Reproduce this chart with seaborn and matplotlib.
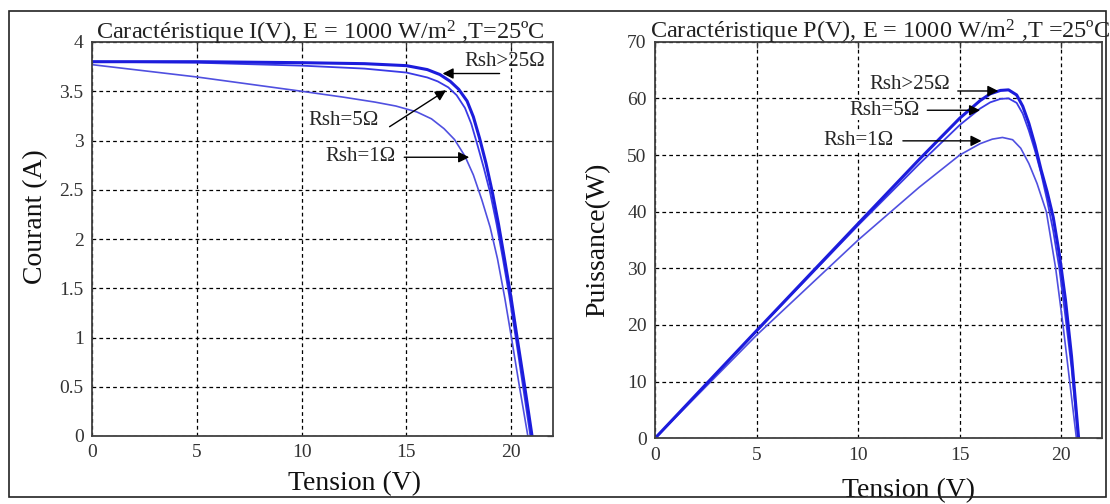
import numpy as np
import pandas as pd
import matplotlib
matplotlib.use("Agg")
import matplotlib.pyplot as plt
from matplotlib.patches import Rectangle
import seaborn as sns

# ---------------- data ----------------
series_names = ["Rsh>25Ω", "Rsh=5Ω", "Rsh=1Ω"]

# I(V) characteristic
v_iv_25 = [0, 5, 10, 13, 15, 16, 16.6, 17.1, 17.5, 17.9, 18.2, 18.5, 18.8, 19.1, 19.4, 19.7, 20.0, 20.3, 20.65, 21.0]
i_iv_25 = [3.80, 3.80, 3.79, 3.78, 3.76, 3.72, 3.67, 3.60, 3.52, 3.40, 3.24, 3.02, 2.77, 2.48, 2.15, 1.78, 1.40, 0.98, 0.50, 0.0]

v_iv_5 = [0, 5, 10, 13, 15, 16, 16.5, 17.0, 17.4, 17.8, 18.1, 18.4, 18.7, 19.0, 19.3, 19.6, 19.9, 20.2, 20.55, 20.92]
i_iv_5 = [3.80, 3.79, 3.76, 3.73, 3.69, 3.64, 3.60, 3.54, 3.46, 3.33, 3.17, 2.95, 2.72, 2.47, 2.16, 1.81, 1.44, 1.03, 0.53, 0.0]

v_iv_1 = [0, 5, 10, 12, 13.5, 14.5, 15.5, 16.2, 16.8, 17.3, 17.8, 18.2, 18.6, 19.0, 19.35, 19.7, 20.0, 20.4, 20.8]
i_iv_1 = [3.77, 3.645, 3.50, 3.44, 3.39, 3.35, 3.29, 3.22, 3.12, 3.01, 2.84, 2.65, 2.40, 2.12, 1.80, 1.40, 1.02, 0.50, 0.0]

# P(V) characteristic
v_pv_25 = [0, 5, 10, 13, 15, 16, 16.5, 17.0, 17.4, 17.8, 18.1, 18.4, 18.7, 19.0, 19.3, 19.6, 19.9, 20.2, 20.5, 20.85]
p_pv_25 = [0, 19.0, 37.9, 49.2, 56.5, 59.6, 60.8, 61.4, 61.5, 60.6, 58.6, 55.6, 51.8, 47.4, 43.5, 39.0, 32.5, 24.5, 14.5, 0]

v_pv_5 = [0, 5, 10, 13, 15, 16, 16.5, 17.0, 17.4, 17.8, 18.1, 18.4, 18.7, 19.0, 19.3, 19.6, 19.9, 20.2, 20.5, 20.82]
p_pv_5 = [0, 18.9, 37.6, 48.4, 55.3, 58.2, 59.3, 59.9, 60.0, 59.2, 57.3, 54.3, 50.8, 46.8, 42.0, 36.6, 30.0, 21.5, 12.5, 0]

v_pv_1 = [0, 5, 10, 13, 15, 16, 16.6, 17.1, 17.6, 18.0, 18.4, 18.8, 19.26, 19.72, 20.08, 20.41, 20.74]
p_pv_1 = [0, 18.2, 35.0, 44.3, 50.0, 52.0, 52.8, 53.1, 52.7, 51.2, 48.5, 45.0, 40.0, 30.0, 20.0, 10.0, 0]

x_ticks = [0, 5, 10, 15, 20]
i_ticks = [0, 0.5, 1, 1.5, 2, 2.5, 3, 3.5, 4]
i_tick_labels = ["0", "0.5", "1", "1.5", "2", "2.5", "3", "3.5", "4"]
p_ticks = [0, 10, 20, 30, 40, 50, 60, 70]

title_iv = "Caractéristique I(V), E = 1000 W/m$\\mathregular{^2}$ ,T=25ºC"
title_pv = "Caractéristique P(V), E = 1000 W/m$\\mathregular{^2}$ ,T =25ºC"

# ---------------- style ----------------
sns.set_theme(style="white")
plt.rcParams["font.family"] = ["Liberation Serif", "DejaVu Serif"]
plt.rcParams["mathtext.fontset"] = "custom"
plt.rcParams["mathtext.rm"] = "Liberation Serif"
plt.rcParams["mathtext.it"] = "Liberation Serif:italic"
plt.rcParams["mathtext.bf"] = "Liberation Serif:bold"

colors = {"Rsh>25Ω": "#1c1cdc", "Rsh=5Ω": "#3a3ae6", "Rsh=1Ω": "#5050e0"}
widths = {"Rsh>25Ω": 2.2, "Rsh=5Ω": 1.3, "Rsh=1Ω": 1.2}

iv = pd.concat([
    pd.DataFrame({"V": v_iv_25, "Y": i_iv_25, "s": series_names[0]}),
    pd.DataFrame({"V": v_iv_5, "Y": i_iv_5, "s": series_names[1]}),
    pd.DataFrame({"V": v_iv_1, "Y": i_iv_1, "s": series_names[2]}),
])
pv = pd.concat([
    pd.DataFrame({"V": v_pv_25, "Y": p_pv_25, "s": series_names[0]}),
    pd.DataFrame({"V": v_pv_5, "Y": p_pv_5, "s": series_names[1]}),
    pd.DataFrame({"V": v_pv_1, "Y": p_pv_1, "s": series_names[2]}),
])

fig = plt.figure(figsize=(11.1, 5.04), dpi=100)
fig.patch.set_facecolor("white")
ax1 = fig.add_axes([92 / 1110, 1 - 436 / 504, 461 / 1110, 394 / 504])
ax2 = fig.add_axes([655 / 1110, 1 - 438.3 / 504, 447 / 1110, 396.6 / 504])

fig.patches.append(Rectangle((9 / 1110, 1 - 497 / 504), 1097 / 1110, 486 / 504,
                             transform=fig.transFigure, fill=False,
                             edgecolor="#222222", linewidth=1.2))


def draw(ax, df, yticks, ylim):
    for name in series_names[::-1]:
        sub = df[df["s"] == name]
        sns.lineplot(data=sub, x="V", y="Y", ax=ax, sort=False, estimator=None,
                     color=colors[name], linewidth=widths[name], legend=False)
    ax.set_xlim(0, 22)
    ax.set_ylim(*ylim)
    ax.set_xticks(x_ticks)
    ax.set_yticks(yticks)
    ax.grid(True, color="black", linestyle=(0, (3, 2.5)), linewidth=0.9)
    ax.set_axisbelow(True)
    for sp in ax.spines.values():
        sp.set_color("#404040")
        sp.set_linewidth(1.3)
    ax.tick_params(direction="in", length=4, width=0.9, top=True, right=True,
                   labelsize=14, pad=6, colors="#333333", labelcolor="#333333")
    ax.set_facecolor("white")


draw(ax1, iv, i_ticks, (0, 4))
ax1.set_yticklabels(i_tick_labels)
draw(ax2, pv, p_ticks, (0, 70))

# labels
ax1.set_xlabel("Tension (V)", fontsize=20, color="#111111")
ax1.xaxis.set_label_coords(0.57, -0.09)
ax1.set_ylabel("Courant (A)", fontsize=20, color="#111111")
ax1.yaxis.set_label_coords(-0.095, 0.558)
ax2.set_xlabel("Tension (V)", fontsize=20, color="#111111")
ax2.xaxis.set_label_coords(0.566, -0.10)
ax2.set_ylabel("Puissance(W)", fontsize=20, color="#111111")
ax2.yaxis.set_label_coords(-0.10, 0.5)

ax1.text(0.495, 1.006, title_iv, transform=ax1.transAxes, ha="center",
         va="baseline", fontsize=17.5, color="#222222")
ax2.text(0.503, 1.008, title_pv, transform=ax2.transAxes, ha="center",
         va="baseline", fontsize=17.5, color="#222222")

arrow = dict(arrowstyle="-|>", color="black", lw=1.0, mutation_scale=16,
             shrinkA=0, shrinkB=0)
# I(V) annotations
ax1.annotate("", xy=(16.73, 3.68), xytext=(19.45, 3.68), arrowprops=arrow)
ax1.text(19.7, 3.80, "Rsh>25Ω", ha="center", va="center", fontsize=15)
ax1.annotate("", xy=(16.9, 3.51), xytext=(14.2, 3.14), arrowprops=arrow)
ax1.text(12.0, 3.20, "Rsh=5Ω", ha="center", va="center", fontsize=15,
         bbox=dict(facecolor="white", edgecolor="none", pad=0.5))
ax1.annotate("", xy=(18.0, 2.83), xytext=(14.9, 2.83), arrowprops=arrow)
ax1.text(12.8, 2.84, "Rsh=1Ω", ha="center", va="center", fontsize=15,
         bbox=dict(facecolor="white", edgecolor="none", pad=0.5))

# P(V) annotations
ax2.annotate("", xy=(16.9, 61.3), xytext=(14.9, 61.3), arrowprops=arrow)
ax2.text(12.54, 62.5, "Rsh>25Ω", ha="center", va="center", fontsize=15,
         bbox=dict(facecolor="white", edgecolor="none", pad=0.5))
ax2.annotate("", xy=(16.0, 57.9), xytext=(13.4, 57.9), arrowprops=arrow)
ax2.text(11.3, 57.9, "Rsh=5Ω", ha="center", va="center", fontsize=15,
         bbox=dict(facecolor="white", edgecolor="none", pad=0.5))
ax2.annotate("", xy=(16.07, 52.5), xytext=(12.2, 52.5), arrowprops=arrow)
ax2.text(10.0, 52.6, "Rsh=1Ω", ha="center", va="center", fontsize=15,
         bbox=dict(facecolor="white", edgecolor="none", pad=0.5))

fig.savefig("out.png", dpi=100, facecolor="white")
